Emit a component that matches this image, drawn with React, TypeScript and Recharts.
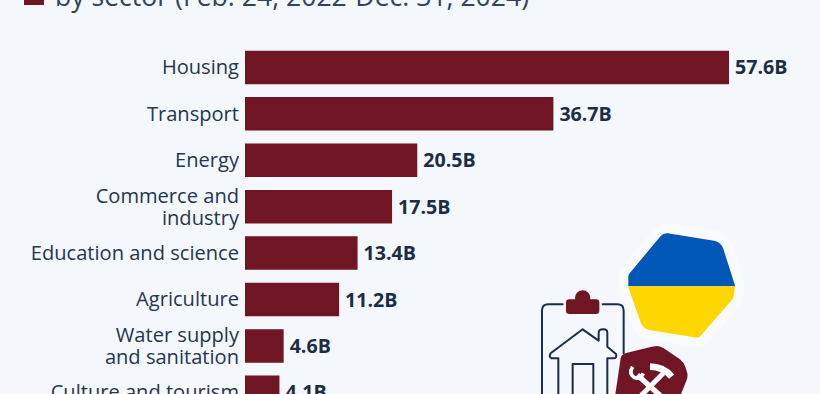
import React from "react";
import { BarChart, Bar, XAxis, YAxis, LabelList } from "recharts";

const categories = [
  "Housing",
  "Transport",
  "Energy",
  "Commerce and\nindustry",
  "Education and science",
  "Agriculture",
  "Water supply\nand sanitation",
  "Culture and tourism",
];
const values = [57.6, 36.7, 20.5, 17.5, 13.4, 11.2, 4.6, 4.1];
const subtitle = "by sector (Feb. 24, 2022-Dec. 31, 2024)";

const data = categories.map((name, i) => ({ name, value: values[i] }));

const FONT = "'Open Sans', sans-serif";
const INK = "#1c2d45";
const RED = "#6f1523";
const FLAG = "M505 85 L640 107 Q652 110 656 122 L690 229 L686 258 L590 368 L450 345 Q440 342 436 332 L400 229 L400 200 L490 92 Q496 84 505 85 Z";

const CategoryTick = (props: any) => {
  const { x, y, payload } = props;
  const lines = String(payload.value).split("\n");
  const start = y + 6.5 - ((lines.length - 1) * 22) / 2;
  return (
    <text textAnchor="end" fontFamily={FONT} fontSize={20.1} fill="#25364f">
      {lines.map((l: string, i: number) => (
        <tspan key={i} x={x} y={start + i * 22}>
          {l}
        </tspan>
      ))}
    </text>
  );
};

const ValueLabel = (props: any) => {
  const { x, y, width, height, value } = props;
  return (
    <text x={x + width + 6} y={y + height / 2 + 7} fontFamily={FONT} fontWeight={700} fontSize={19.6} fill={INK}>
      {value}B
    </text>
  );
};

const Artwork = () => (
  <svg width={820} height={394} style={{ position: "absolute", left: 0, top: 0, pointerEvents: "none" }}>
    <defs>
      <clipPath id="flagTop"><rect x={300} y={0} width={500} height={229} /></clipPath>
      <clipPath id="flagBottom"><rect x={300} y={229} width={500} height={300} /></clipPath>
    </defs>
    <g transform="translate(500 210) scale(0.3333)">
      <path d={FLAG} fill="#f8fafc" stroke="#f8fafc" strokeWidth={90} strokeLinejoin="round" />
      <path d={FLAG} clipPath="url(#flagTop)" fill="#0057b7" stroke="#0057b7" strokeWidth={30} strokeLinejoin="round" />
      <path d={FLAG} clipPath="url(#flagBottom)" fill="#ffd700" stroke="#ffd700" strokeWidth={30} strokeLinejoin="round" />
      <path d="M188 283 H145 Q126 283 126 302 V552 M308 283 H352 Q371 283 371 302 V430" fill="none" stroke={INK} strokeWidth={6} strokeLinecap="round" />
      <rect x={198} y={268} width={100} height={44} rx={10} fill={RED} />
      <circle cx={248} cy={264} r={23} fill={RED} />
      <path d="M175 552 V445 H155 Q145 440 152 430 L248 358 L296 392 V368 Q296 358 310 358 Q322 358 322 368 V410 L348 432 Q352 445 340 445 H322 V552 M218 552 V462 H280 V552" fill="none" stroke={INK} strokeWidth={6} strokeLinejoin="round" />
      <path d="M470 408 Q480 408 490 414 L540 448 Q552 458 556 470 L562 490 Q564 500 560 510 L540 560 H345 L362 445 Q364 434 376 430 L455 410 Z" fill={RED} />
      <g fill="none" stroke="#ffffff" strokeLinecap="butt">
        <path d="M412 495 L490 565" strokeWidth={16} />
        <path d="M398 470 Q385 490 402 502 Q420 510 430 490" strokeWidth={11} />
        <path d="M490 490 L415 565" strokeWidth={15} />
        <path d="M450 470 Q490 470 515 500" strokeWidth={20} />
      </g>
    </g>
  </svg>
);

export default function App() {
  return (
    <div style={{ position: "fixed", left: 0, top: 0, width: 820, height: 394, overflow: "hidden", background: "#f4f7fb" }}>
      <div style={{ position: "absolute", left: 24, top: -15.5, width: 20, height: 20, background: RED }} />
      <div
        style={{
          position: "absolute",
          left: 55,
          top: -21,
          fontFamily: FONT,
          fontSize: 26.6,
          lineHeight: "34px",
          whiteSpace: "nowrap",
          color: "#33445c",
        }}
      >
        {subtitle}
      </div>
      <div style={{ position: "absolute", left: 0, top: 0 }}>
        <BarChart
          width={820}
          height={416}
          data={data}
          layout="vertical"
          margin={{ top: 44.7, right: 91, bottom: 0, left: 0 }}
        >
          <XAxis type="number" domain={[0, 57.6]} hide />
          <YAxis
            type="category"
            dataKey="name"
            width={245}
            axisLine={false}
            tickLine={false}
            interval={0}
            tick={<CategoryTick />}
            tickMargin={0}
            tickSize={6}
          />
          <Bar dataKey="value" fill={RED} barSize={33.5} isAnimationActive={false}>
            <LabelList dataKey="value" content={<ValueLabel />} />
          </Bar>
        </BarChart>
      </div>
      <Artwork />
    </div>
  );
}
